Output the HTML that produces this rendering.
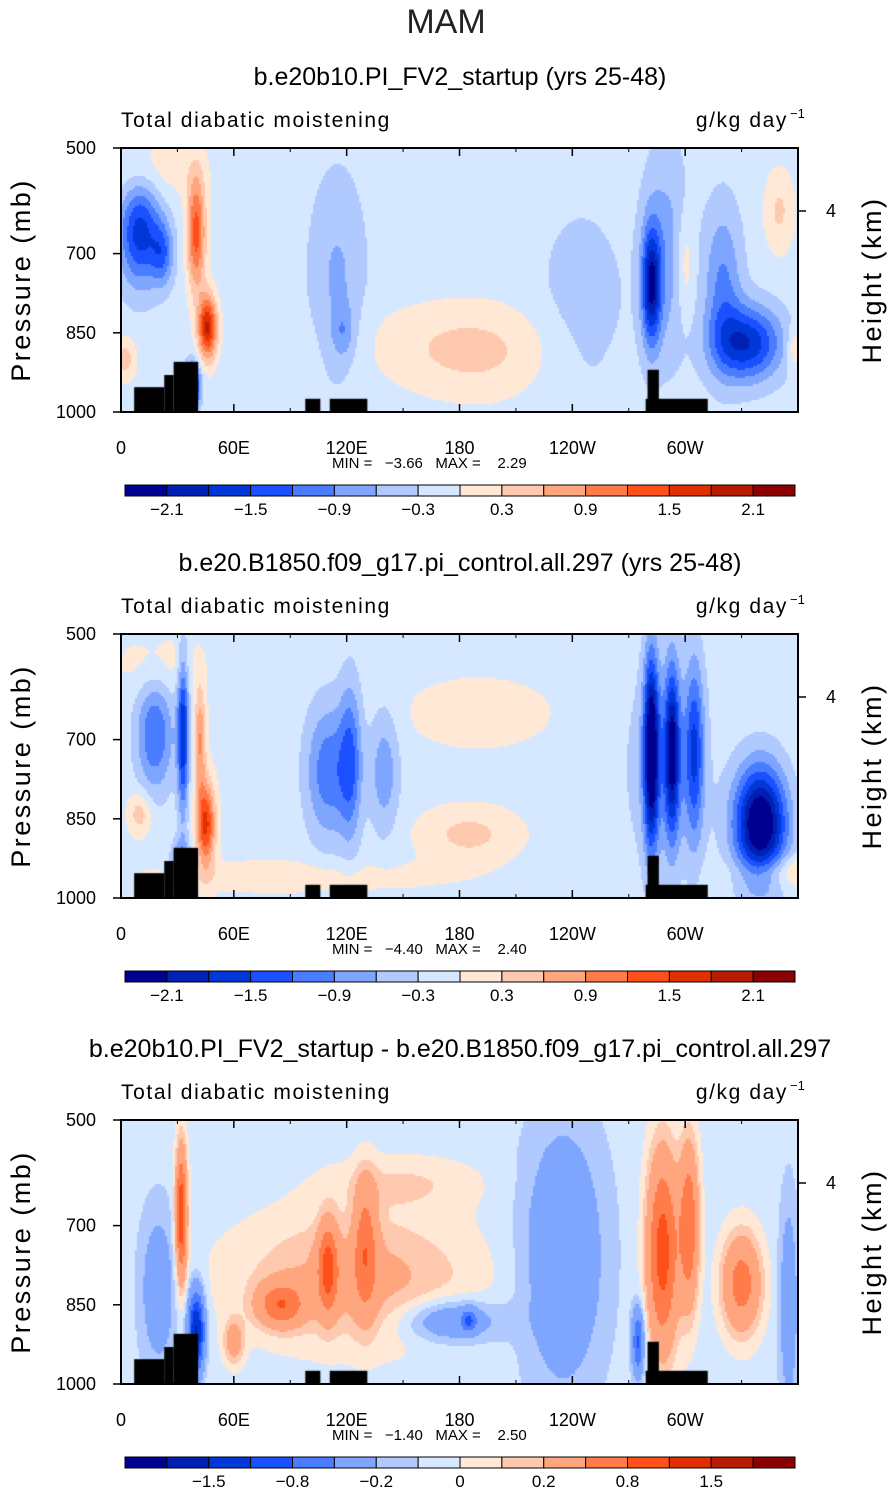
<!DOCTYPE html>
<html><head><meta charset="utf-8"><style>
body{margin:0;background:#fff;width:893px;height:1493px;position:relative;overflow:hidden;font-family:"Liberation Sans",sans-serif}
canvas{position:absolute}
svg{position:absolute;left:0;top:0}
text{white-space:pre}
</style></head><body>
<canvas id="c0" width="677" height="264" style="left:121px;top:148px"></canvas>
<canvas id="c1" width="677" height="264" style="left:121px;top:634px"></canvas>
<canvas id="c2" width="677" height="264" style="left:121px;top:1120px"></canvas>
<svg id="s" width="893" height="1493"></svg>
<script>
const colors=["#000090","#0020b4","#0037d9","#1a50ff","#4a7cff","#7fa6ff","#b0c9ff","#d6e8ff","#ffe8d6","#ffc9b0","#ffa67f","#ff7c4a","#ff501a","#e03000","#b81c00","#8b0000"];
const levelsA=[-2.1,-1.8,-1.5,-1.2,-0.9,-0.6,-0.3,0,0.3,0.6,0.9,1.2,1.5,1.8,2.1];
const levelsB=[-2,-1.5,-1.1,-0.8,-0.5,-0.2,-0.1,0,0.1,0.2,0.5,0.8,1.1,1.5,2];
const labelsA=["−2.1","−1.5","−0.9","−0.3","0.3","0.9","1.5","2.1"];
const labelsB=["−1.5","−0.8","−0.2","0","0.2","0.8","1.5"];
const lonTicks=[0,60,120,180,240,300];
const lonLabels=["0","60E","120E","180","120W","60W"];
const pTicks=[500,700,850,1000];
// blobs: [lon, pressure, amplitude, lonWidth, pWidth]
const blobs1=[[10,660,-1.5,11,100],[22,700,-0.9,6,60],[40,660,1.5,5,110],[46,840,2.0,5,60],[38,950,-2.0,4,40],[2,900,0.6,6,40],[15,540,0.35,28,60],[115,750,-0.5,15,200],[118,850,-0.5,6,50],[190,890,0.4,40,90],[245,800,-0.3,25,200],[282,760,-1.8,5,110],[290,700,-0.6,12,200],[300,720,0.5,5,100],[333,870,-1.6,18,70],[320,760,-0.8,10,150],[350,620,0.5,8,80],[358,880,0.5,4,40],[165,870,0.2,60,80]];
const blobs2=[[18,690,-1.1,10,110],[33,690,-1.6,3,150],[45,860,1.7,5,80],[42,700,1.0,3,100],[32,950,-1.5,5,50],[10,840,0.6,6,40],[110,760,-1.0,12,130],[122,740,-1.0,6,150],[140,760,-0.7,8,120],[185,880,0.5,25,50],[190,650,0.25,40,70],[282,720,-2.3,4,180],[293,720,-1.8,4,160],[305,720,-1.2,5,170],[340,860,-2.5,14,110],[290,750,-0.6,20,200],[360,950,0.6,30,30],[90,960,0.3,80,30],[20,560,0.3,20,60]];
const blobs3=[[125,800,0.32,60,120],[85,850,0.7,12,40],[110,780,0.8,5,80],[130,740,0.6,6,120],[175,880,-0.4,25,40],[185,880,-0.6,4,20],[235,760,-0.35,22,250],[288,750,1.0,8,180],[302,700,0.8,5,150],[330,810,0.7,10,90],[32,680,1.1,3,120],[40,900,-1.5,4,70],[20,820,-0.3,10,150],[60,920,0.4,5,40],[355,850,-0.3,5,200],[275,920,-0.8,3,60],[150,620,0.15,40,50]];
const bases=[-0.15,-0.1,-0.05];
const terrain=[[7,23,953],[23,28,930],[28,41,905],[98,106,975],[111,131,975],[280,286,920],[279,312,975]];
const titles=["b.e20b10.PI_FV2_startup (yrs 25-48)","b.e20.B1850.f09_g17.pi_control.all.297 (yrs 25-48)","b.e20b10.PI_FV2_startup - b.e20.B1850.f09_g17.pi_control.all.297"];
const minVals=["−3.66","−4.40","−1.40"],maxVals=["2.29","2.40","2.50"];
const panelTops=[148,634,1120];
const allBlobs=[blobs1,blobs2,blobs3];

const X0=121,W=677,H=264;
const xOf=l=>X0+l/360*W;
const yOf=(top,p)=>top+(p-500)/500*H;
const NS="http://www.w3.org/2000/svg";
const s=document.getElementById('s');
function el(t,a,txt){const e=document.createElementNS(NS,t);for(const k in a)e.setAttribute(k,a[k]);if(txt!==undefined)e.textContent=txt;s.appendChild(e);return e;}

for(let i=0;i<3;i++){
  const cv=document.getElementById('c'+i),ctx=cv.getContext('2d');
  const lv=i<2?levelsA:levelsB,bl=allBlobs[i];
  for(let py=0;py<H;py+=2)for(let px=0;px<W;px+=2){
    const lon=(px+1)/W*360,p=500+(py+1)/H*500;let v=bases[i];
    for(const b of bl){const dx=(lon-b[0])/b[3],dy=(p-b[1])/b[4];v+=b[2]*Math.exp(-dx*dx-dy*dy);}
    let k=0;while(k<lv.length&&v>lv[k])k++;
    ctx.fillStyle=colors[k];ctx.fillRect(px,py,2,2);
  }
  const top=panelTops[i];
  ctx.fillStyle="#000";
  for(const t of terrain){ctx.fillRect(t[0]/360*W,(t[2]-500)/500*H,(t[1]-t[0])/360*W,H);}
  let e=el('text',{x:460,y:top-63,'text-anchor':'middle','font-size':25},titles[i]);
  
  e=el('text',{x:121,y:top-21,'font-size':21,'letter-spacing':'1.6'},'Total diabatic moistening');
  
  e=el('text',{x:788,y:top-21,'text-anchor':'end','font-size':21,'letter-spacing':'1.6'},'g/kg day');
  
  el('text',{x:790,y:top-30,'font-size':13},'−1');
  e=el('rect',{x:121,y:top,width:W,height:H,fill:'none',stroke:'#000','stroke-width':2});
  
  lonTicks.forEach((l,j)=>{const x=xOf(l);
    el('line',{x1:x,x2:x,y1:top+H,y2:top+H-8,stroke:'#000','stroke-width':1.5});
    el('line',{x1:x,x2:x,y1:top,y2:top+8,stroke:'#000','stroke-width':1.5});
    e=el('text',{x:x,y:top+H+42,'text-anchor':'middle','font-size':18},lonLabels[j]);
    
  });
  for(let l=30;l<360;l+=60){const x=xOf(l);el('line',{x1:x,x2:x,y1:top+H,y2:top+H-4,stroke:'#000'});el('line',{x1:x,x2:x,y1:top,y2:top+4,stroke:'#000'});}
  pTicks.forEach(p=>{const y=yOf(top,p);
    el('line',{x1:121,x2:113,y1:y,y2:y,stroke:'#000','stroke-width':1.5});
    e=el('text',{x:96,y:y+6,'text-anchor':'end','font-size':18},String(p));
    
  });
  el('line',{x1:798,x2:806,y1:top+63,y2:top+63,stroke:'#000','stroke-width':1.5});
  el('text',{x:826,y:top+69,'font-size':18},'4');
  e=el('text',{x:0,y:0,'font-size':27,'text-anchor':'middle','letter-spacing':'2.5',transform:`translate(30,${top+132}) rotate(-90)`},'Pressure (mb)');
  
  e=el('text',{x:0,y:0,'font-size':27,'text-anchor':'middle','letter-spacing':'2.5',transform:`translate(881,${top+132}) rotate(-90)`},'Height (km)');
  
  e=el('text',{x:332,y:top+320,'font-size':15},'MIN =   '+minVals[i]+'   MAX =    '+maxVals[i]);
  
  const cy=top+337,bw=670/16;
  colors.forEach((c,j)=>{e=el('rect',{x:125+j*bw,y:cy,width:bw,height:11,fill:c,stroke:'#000','stroke-width':1});
    });
  const labs=i<2?labelsA:labelsB,off=i<2?1:2;
  labs.forEach((t,j)=>{e=el('text',{x:125+(off+2*j)*bw,y:cy+30,'text-anchor':'middle','font-size':17},t);
    });
}
let t=el('text',{x:446,y:33,'text-anchor':'middle','font-size':34,fill:'#222'},'MAM');


</script>
</body></html>
